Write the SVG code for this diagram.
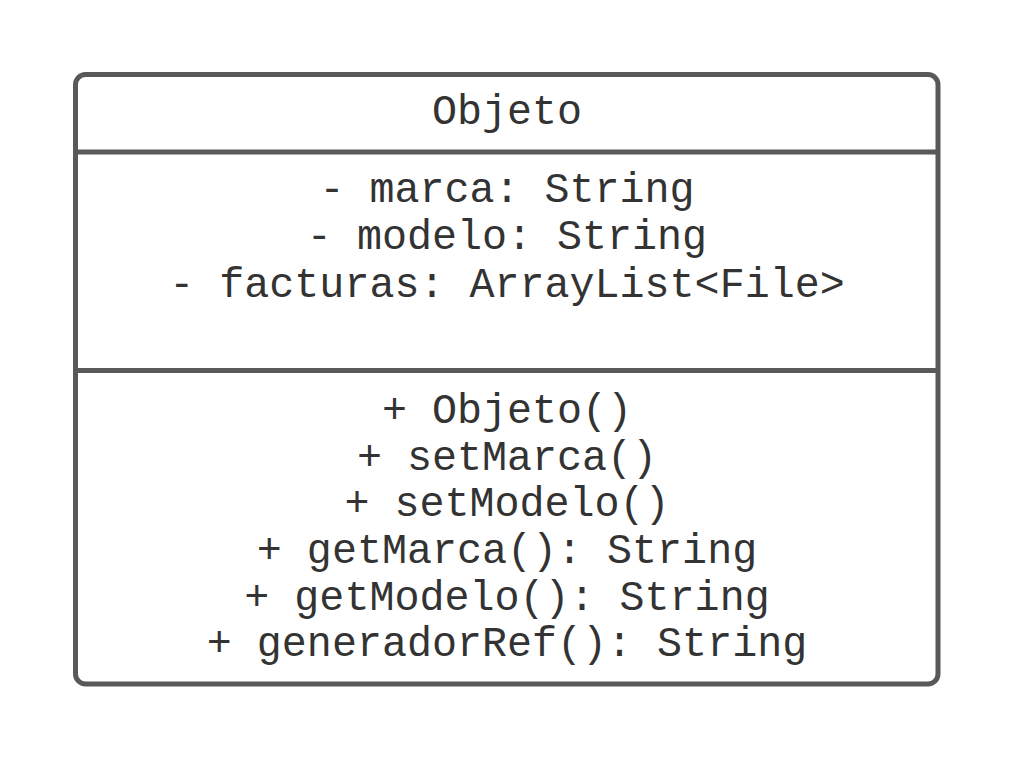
<svg xmlns="http://www.w3.org/2000/svg" width="1013" height="759" viewBox="0 0 1013 759">
<style>
.box{fill:#ffffff;stroke:#595959;stroke-width:5}
.sep{stroke:#595959;stroke-width:5;fill:none}
.t{font-family:"Liberation Mono","Cousine",monospace;font-size:41.7px;fill:#333333;text-anchor:middle}
</style>
<rect width="1013" height="759" fill="#ffffff"/>
<g id="class-Objeto">
<rect class="box" x="75.5" y="74.5" width="862.5" height="609.5" rx="10" ry="10"/>
<line class="sep" x1="75.5" y1="152" x2="938" y2="152"/>
<line class="sep" x1="75.5" y1="370.5" x2="938" y2="370.5"/>
<text class="t" x="507" y="124">Objeto</text>
<text class="t" x="507" y="202">- marca: String</text>
<text class="t" x="507" y="249">- modelo: String</text>
<text class="t" x="507" y="297">- facturas: ArrayList&lt;File&gt;</text>
<text class="t" x="507" y="423">+ Objeto()</text>
<text class="t" x="507" y="470">+ setMarca()</text>
<text class="t" x="507" y="516">+ setModelo()</text>
<text class="t" x="507" y="563">+ getMarca(): String</text>
<text class="t" x="507" y="610">+ getModelo(): String</text>
<text class="t" x="507" y="656">+ generadorRef(): String</text>
</g>
<g id="connectors"></g>
</svg>
